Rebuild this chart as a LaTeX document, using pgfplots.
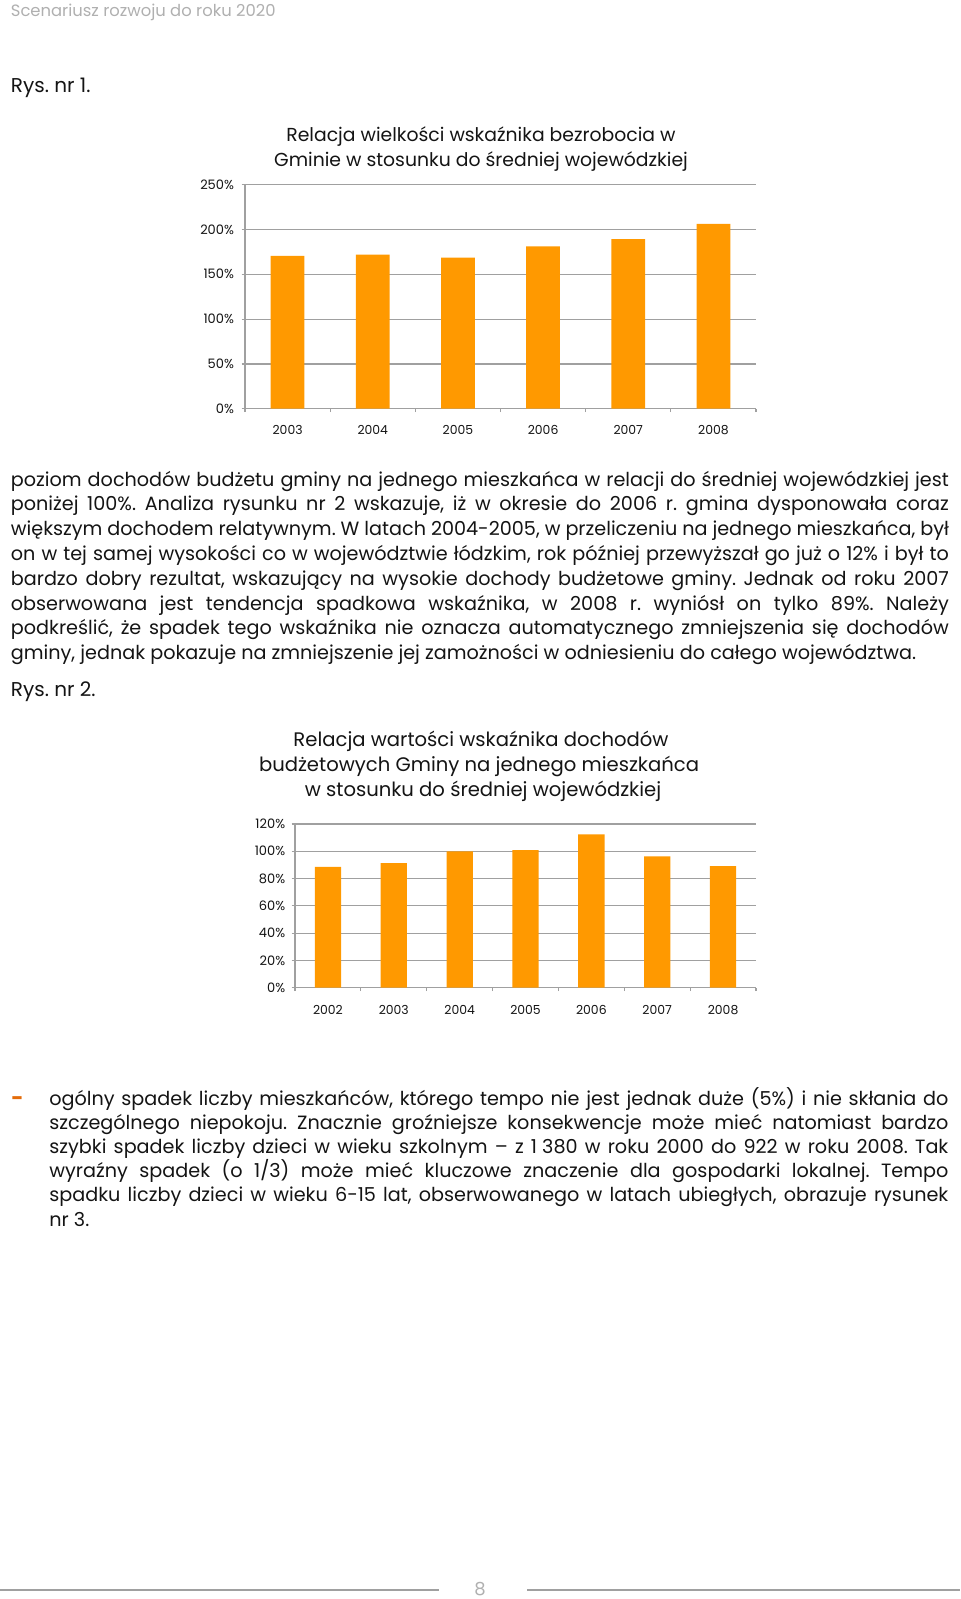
\documentclass[border=0pt]{standalone}
\usepackage{fontspec}
\setmainfont{Poppins}
\usepackage{pgfplots}
\pgfplotsset{compat=1.18}
\definecolor{barorange}{RGB}{255,153,0}
\definecolor{gridgray}{RGB}{160,160,160}
\definecolor{hdrgray}{RGB}{176,176,176}
\definecolor{dashorange}{RGB}{228,108,10}
\definecolor{txt}{RGB}{20,20,20}
\newcommand{\fs}[1]{\fontsize{#1}{#1}\selectfont}
\newlength{\pxu}\setlength{\pxu}{0.5pt}
\newcommand{\bodyfont}{\fs{9.6}}
\newcommand{\jl}[4]{\node[anchor=base west,inner sep=0,text=txt,font=\bodyfont] at (#1,#2) {\makebox[#3\pxu][s]{#4}};}
\newcommand{\nl}[3]{\node[anchor=base west,inner sep=0,text=txt,font=\bodyfont] at (#1,#2) {#3};}
\frenchspacing
\begin{document}
\frenchspacing
\begin{tikzpicture}
\begin{scope}[x=0.5pt,y=-0.5pt]
\useasboundingbox (0,0) rectangle (960,1599);
\fill[white] (0,0) rectangle (960,1599);
% header
\node[anchor=base west,inner sep=0,text=hdrgray,font=\fs{8.2}] at (10.5,17) {Scenariusz rozwoju do roku 2020};
\node[anchor=base west,inner sep=0,text=txt,font=\fs{10}] at (10.5,93) {Rys. nr 1.};
% chart 1 title
\node[anchor=base,inner sep=0,text=txt,font=\fs{9.4}] at (481,141.5) {Relacja wielkości wskaźnika bezrobocia w};
\node[anchor=base,inner sep=0,text=txt,font=\fs{9.4}] at (481,166.4) {Gminie w stosunku do średniej wojewódzkiej};
% paragraph 1
\jl{10.5}{486}{938}{poziom dochodów budżetu gminy na jednego mieszkańca w relacji do średniej wojewódzkiej jest}
\jl{10.5}{510.8}{938}{poniżej 100\%. Analiza rysunku nr 2 wskazuje, iż w okresie do 2006 r. gmina dysponowała coraz}
\jl{10.5}{535.6}{938}{większym dochodem relatywnym. W latach 2004-2005, w przeliczeniu na jednego mieszkańca, był}
\jl{10.5}{560.4}{938}{on w tej samej wysokości co w województwie łódzkim, rok później przewyższał go już o 12\% i był to}
\jl{10.5}{585.2}{938}{bardzo dobry rezultat, wskazujący na wysokie dochody budżetowe gminy. Jednak od roku 2007}
\jl{10.5}{610}{938}{obserwowana jest tendencja spadkowa wskaźnika, w 2008 r. wyniósł on tylko 89\%. Należy}
\jl{10.5}{634.8}{938}{podkreślić, że spadek tego wskaźnika nie oznacza automatycznego zmniejszenia się dochodów}
\nl{10.5}{659.6}{gminy, jednak pokazuje na zmniejszenie jej zamożności w odniesieniu do całego województwa.}
\node[anchor=base west,inner sep=0,text=txt,font=\fs{10}] at (10.5,696) {Rys. nr 2.};
% chart 2 title
\node[anchor=base,inner sep=0,text=txt,font=\fs{9.8}] at (481,746.7) {Relacja wartości wskaźnika dochodów};
\node[anchor=base,inner sep=0,text=txt,font=\fs{9.8}] at (479,771) {budżetowych Gminy na jednego mieszkańca};
\node[anchor=base,inner sep=0,text=txt,font=\fs{9.8}] at (483,796.3) {w stosunku do średniej wojewódzkiej};
% paragraph 2
\node[anchor=base west,inner sep=0,text=dashorange,font=\fs{10.5}\bfseries] at (11,1105) {-};
\jl{49}{1105.7}{899}{ogólny spadek liczby mieszkańców, którego tempo nie jest jednak duże (5\%) i nie skłania do}
\jl{49}{1129.8}{899}{szczególnego niepokoju. Znacznie groźniejsze konsekwencje może mieć natomiast bardzo}
\jl{49}{1153.8}{899}{szybki spadek liczby dzieci w wieku szkolnym – z \mbox{1 380} w roku 2000 do 922 w roku 2008. Tak}
\jl{49}{1177.9}{899}{wyraźny spadek (o 1/3) może mieć kluczowe znaczenie dla gospodarki lokalnej. Tempo}
\jl{49}{1201.9}{899}{spadku liczby dzieci w wieku 6-15 lat, obserwowanego w latach ubiegłych, obrazuje rysunek}
\nl{49}{1226}{nr 3.}
% footer
\draw[gridgray,line width=1pt] (0,1589.5) -- (439,1589.5);
\draw[gridgray,line width=1pt] (527,1589.5) -- (960,1589.5);
\node[anchor=base,inner sep=0,text=hdrgray,font=\fs{9}] at (480,1595) {8};
\end{scope}

% chart 1
\begin{axis}[
  at={(122.5pt,-204.35pt)}, anchor=south west,
  scale only axis, width=255.5pt, height=112pt,
  xmin=-0.5, xmax=5.5, ymin=0, ymax=250,
  ytick={0,50,100,150,200,250},
  yticklabels={0\%,50\%,100\%,150\%,200\%,250\%},
  xtick={-0.5,0.5,1.5,2.5,3.5,4.5,5.5},
  x tick label as interval,
  xticklabels={2003,2004,2005,2006,2007,2008},
  axis x line*=bottom, axis y line*=left,
  axis line style={gridgray,line width=0.6pt,-},
  ymajorgrids, grid style={gridgray,line width=0.6pt},
  major tick length=1.7pt, tick align=outside,
  tick style={gridgray,line width=0.6pt},
  yticklabel style={font=\fs{6.5},text=txt,xshift=-0.3pt},
  xticklabel style={font=\fs{6.2},text=txt,yshift=-3pt},
  clip=false,
]
\addplot[ybar, bar width=16.85pt, fill=barorange, draw=none, bar shift=0pt]
  coordinates {(0,170.6) (1,171.9) (2,168.5) (3,181.1) (4,189.3) (5,206.3)};
\end{axis}

% chart 2
\begin{axis}[
  at={(147.5pt,-493.85pt)}, anchor=south west,
  scale only axis, width=230.5pt, height=81.85pt,
  xmin=-0.5, xmax=6.5, ymin=0, ymax=120,
  ytick={0,20,40,60,80,100,120},
  yticklabels={0\%,20\%,40\%,60\%,80\%,100\%,120\%},
  xtick={-0.5,0.5,1.5,2.5,3.5,4.5,5.5,6.5},
  x tick label as interval,
  xticklabels={2002,2003,2004,2005,2006,2007,2008},
  axis x line*=bottom, axis y line*=left,
  axis line style={gridgray,line width=0.6pt,-},
  ymajorgrids, grid style={gridgray,line width=0.6pt},
  major tick length=1.7pt, tick align=outside,
  tick style={gridgray,line width=0.6pt},
  yticklabel style={font=\fs{6.5},text=txt,xshift=0.3pt},
  xticklabel style={font=\fs{6.2},text=txt,yshift=-3.5pt},
  clip=false,
]
\addplot[ybar, bar width=13.15pt, fill=barorange, draw=none, bar shift=0pt]
  coordinates {(0,88.5) (1,91.4) (2,100.0) (3,100.9) (4,112.4) (5,96.3) (6,89.2)};
\end{axis}
\end{tikzpicture}
\end{document}
